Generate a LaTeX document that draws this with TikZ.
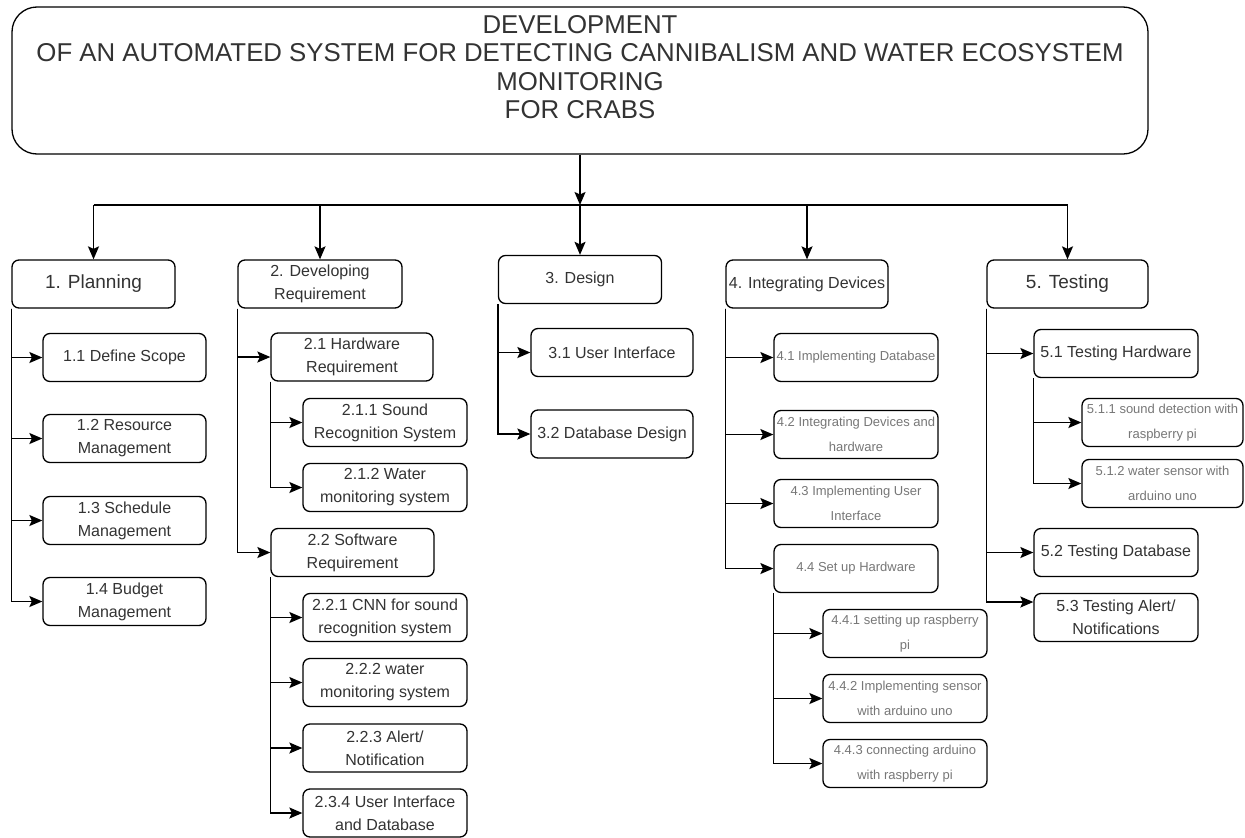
\documentclass[tikz,border=0pt]{standalone}
\usepackage{fontspec}
\setmainfont{Liberation Sans}
\usetikzlibrary{arrows.meta,calc}

\definecolor{ink}{HTML}{333333}
\definecolor{faint}{HTML}{777777}

\tikzset{
  wire/.style={line width=1.5pt, draw=black},
  arr/.style={wire, -{Stealth[length=13pt,width=11pt,inset=2.5pt]}},
  box/.style={draw=black, line width=1.3pt, rounded corners=7pt, fill=white,
    inner sep=0pt, align=center, text=ink,
    minimum width=163pt, minimum height=48pt,
    font=\fontsize{16}{23}\selectfont},
  headbox/.style={box, font=\fontsize{19}{23}\selectfont},
  faintbox/.style={box, text=faint, font=\fontsize{13}{24.5}\selectfont},
  titlebox/.style={draw=black, line width=1.3pt, rounded corners=25pt,
    minimum width=1136pt, minimum height=147pt, inner sep=0pt},
  titletext/.style={align=center, text=ink, inner sep=0pt,
    font=\fontsize{25.8}{28.5}\selectfont}
}

\begin{document}
\begin{tikzpicture}[x=1pt,y=-1pt]
\useasboundingbox (0,0) rectangle (1245,838);

% root
\node[titlebox] (title) at (580,80.5) {};
\node[titletext] (heading) at (580,67) {DEVELOPMENT\\OF AN AUTOMATED SYSTEM FOR DETECTING CANNIBALISM AND WATER ECOSYSTEM\\MONITORING\\FOR CRABS};

% phases
\node[headbox] (p1) at (93.5,284) {1. Planning};
\node[box, minimum width=164pt] (p2) at (320,284) {2. Developing\\Requirement};
\node[box] (p3) at (580,279.5) {3. Design};
\node[box, minimum width=162pt] (p4) at (807,284) {4. Integrating Devices};
\node[headbox, minimum width=161pt] (p5) at (1067.5,284) {5. Testing};

% 1. Planning
\node[box] (c11) at (124.5,357.5) {1.1 Define Scope};
\node[box] (c12) at (124.5,438.5) {1.2 Resource\\Management};
\node[box] (c13) at (124.5,520.5) {1.3 Schedule\\Management};
\node[box] (c14) at (124.5,601.5) {1.4 Budget\\Management};

% 2. Developing Requirement
\node[box, minimum width=162pt] (c21) at (352,357) {2.1 Hardware\\Requirement};
\node[box, minimum width=164pt] (c211) at (385,422.5) {2.1.1 Sound\\Recognition System};
\node[box, minimum width=164pt] (c212) at (385,487.5) {2.1.2 Water\\monitoring system};
\node[box] (c22) at (352.5,552.5) {2.2 Software\\Requirement};
\node[box, minimum width=164pt] (c221) at (385,617.5) {2.2.1 CNN for sound\\recognition system};
\node[box, minimum width=164pt] (c222) at (385,682.5) {2.2.2 water\\monitoring system};
\node[box, minimum width=164pt] (c223) at (385,748) {2.2.3 Alert/\\Notification};
\node[box, minimum width=164pt] (c234) at (385,813) {2.3.4 User Interface\\and Database};

% 3. Design
\node[box, minimum width=162pt] (c31) at (612,352.5) {3.1 User Interface};
\node[box, minimum width=162pt] (c32) at (612,434) {3.2 Database Design};

% 4. Integrating Devices
\node[faintbox, minimum width=164pt] (c41) at (856,357.5) {4.1 Implementing Database};
\node[faintbox, minimum width=164pt] (c42) at (856,434.5) {4.2 Integrating Devices and\\hardware};
\node[faintbox, minimum width=164pt] (c43) at (856,503.5) {4.3 Implementing User\\Interface};
\node[faintbox, minimum width=164pt] (c44) at (856,568.5) {4.4 Set up Hardware};
\node[faintbox, minimum width=164pt] (c441) at (905,633.5) {4.4.1 setting up raspberry\\pi};
\node[faintbox, minimum width=164pt] (c442) at (905,698.5) {4.4.2 Implementing sensor\\with arduino uno};
\node[faintbox, minimum width=164pt] (c443) at (905,763.5) {4.4.3 connecting arduino\\with raspberry pi};

% 5. Testing
\node[box, minimum width=164pt] (c51) at (1116,353.5) {5.1 Testing Hardware};
\node[faintbox, minimum width=161pt] (c511) at (1162.5,422.5) {5.1.1 sound detection with\\raspberry pi};
\node[faintbox, minimum width=161pt] (c512) at (1162.5,483.5) {5.1.2 water sensor with\\arduino uno};
\node[box, minimum width=164pt] (c52) at (1116,552.5) {5.2 Testing Database};
\node[box, minimum width=164pt] (c53) at (1116,617.5) {5.3 Testing Alert/\\Notifications};

% root to phases
\coordinate (hub) at (580,205);
\draw[arr] (title.south) -- (hub);
\draw[wire] (p1.north |- hub) -- (p5.north |- hub);
\foreach \p in {p1,p2,p3,p4,p5}
  \draw[arr] (\p.north |- hub) -- (\p.north);

% phase spines
\foreach \c in {c11,c12,c13,c14}
  \draw[arr] (p1.south west) |- (\c.west);
\foreach \c in {c21,c22}
  \draw[arr] (p2.south west) |- (\c.west);
\foreach \c in {c211,c212}
  \draw[arr] (c21.south west) |- (\c.west);
\foreach \c in {c221,c222,c223,c234}
  \draw[arr] (c22.south west) |- (\c.west);
\foreach \c in {c31,c32}
  \draw[arr] (p3.south west) |- (\c.west);
\foreach \c in {c41,c42,c43,c44}
  \draw[arr] (p4.south west) |- (\c.west);
\foreach \c in {c441,c442,c443}
  \draw[arr] (c44.south west) |- (\c.west);
\foreach \c in {c51,c52}
  \draw[arr] (p5.south west) |- (\c.west);
\draw[arr] (p5.south west) |- ([yshift=15.5pt]c53.west);
\foreach \c in {c511,c512}
  \draw[arr] (c51.south west) |- (\c.west);
\end{tikzpicture}
\end{document}
